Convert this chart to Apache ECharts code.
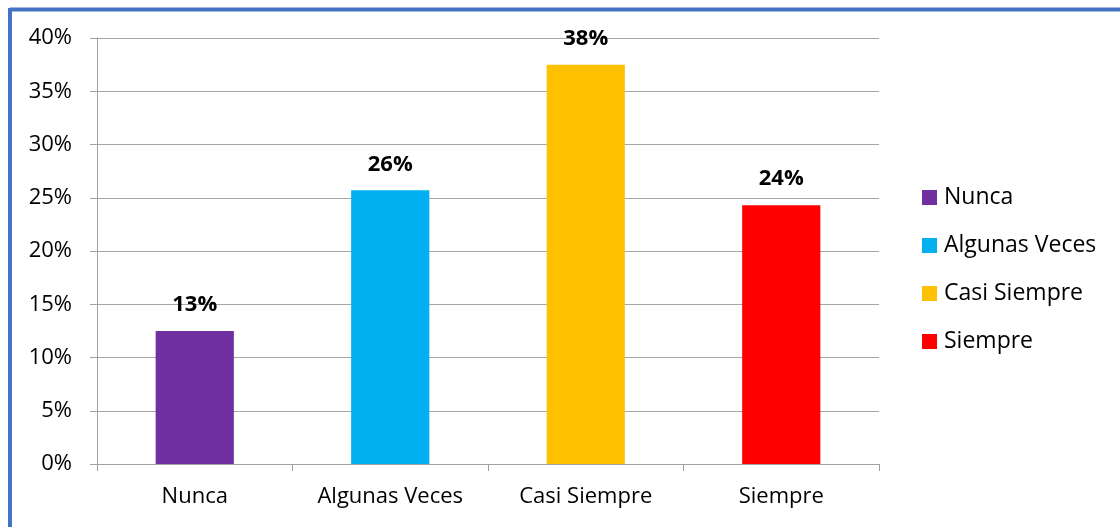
<!DOCTYPE html>
<html><head><meta charset="utf-8">
<script src="https://cdn.jsdelivr.net/npm/echarts@6/dist/echarts.min.js"></script>
<style>html,body{margin:0;padding:0;background:#fff}#c{width:1120px;height:527px}</style>
</head><body><div id="c"></div>
<script>
const categories = ['Nunca', 'Algunas Veces', 'Casi Siempre', 'Siempre'];
const values = [12.5, 25.7, 37.5, 24.3];
const labels = ['13%', '26%', '38%', '24%'];
const colors = ['#7030A0', '#00B0F0', '#FFC000', '#FF0000'];
const yTicks = [0, 5, 10, 15, 20, 25, 30, 35, 40];

const font = '"Open Sans", "Liberation Sans", sans-serif';
const series = categories.map((name, i) => ({
  name: name,
  type: 'bar',
  barWidth: '40%',
  barGap: '-100%',
  itemStyle: { color: colors[i] },
  label: {
    show: true, position: 'top', distance: 15,
    formatter: () => labels[i],
    fontFamily: font, fontSize: 22, fontWeight: 'bold', color: '#000'
  },
  data: categories.map((c, j) => j === i ? values[i] : '-')
}));

const chart = echarts.init(document.getElementById('c'));
chart.setOption({
  animation: false,
  textStyle: { fontFamily: font },
  graphic: [
    { type: 'line', shape: { x1: 10, y1: 9.5, x2: 1120, y2: 9.5 }, style: { stroke: '#4472C4', lineWidth: 4 } },
    { type: 'line', shape: { x1: 10, y1: 8, x2: 10, y2: 527 }, style: { stroke: '#4472C4', lineWidth: 4 } }
  ],
  grid: { left: 97, right: 241, top: 38, bottom: 63, containLabel: false },
  legend: {
    orient: 'vertical', left: 922, top: 186, padding: 0,
    itemWidth: 15, itemHeight: 15, itemGap: 25,
    icon: 'rect',
    textStyle: { fontFamily: font, fontSize: 23, color: '#000', lineHeight: 23, padding: [0, 0, 0, 2] },
    data: categories
  },
  xAxis: {
    type: 'category', data: categories,
    axisLine: { lineStyle: { color: '#A0A0A0', width: 1 } },
    axisTick: { show: true, length: 7, interval: 0, alignWithLabel: false, lineStyle: { color: '#A0A0A0' } },
    axisLabel: { fontFamily: font, fontSize: 22, color: '#000', margin: 22, interval: 0 }
  },
  yAxis: {
    type: 'value', min: 0, max: 40, interval: 5,
    axisLine: { show: true, lineStyle: { color: '#A0A0A0', width: 1 } },
    axisTick: { show: true, length: 7, lineStyle: { color: '#A0A0A0' } },
    splitLine: { lineStyle: { color: '#A6A6A6', width: 1 } },
    axisLabel: { fontFamily: font, fontSize: 22, color: '#000', margin: 25,
      formatter: v => yTicks.includes(v) ? v + '%' : '' }
  },
  series: series
});
</script></body></html>
